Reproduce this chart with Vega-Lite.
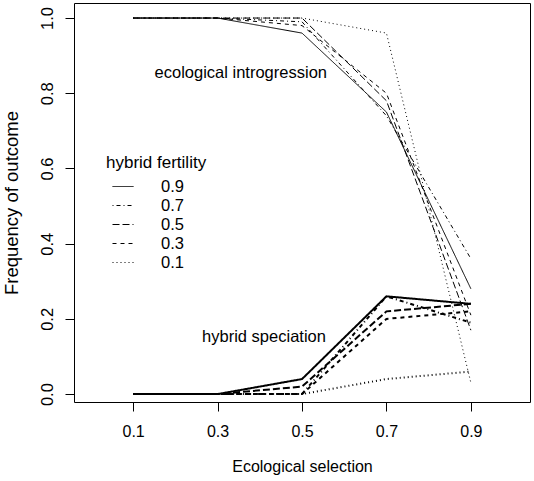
{
  "$schema": "https://vega.github.io/schema/vega-lite/v6.json",
  "autosize": "none",
  "padding": {"left": 74, "top": 3, "right": 4, "bottom": 79},
  "width": 456,
  "height": 399,
  "config": {
    "font": "Liberation Sans",
    "view": {"stroke": "black", "strokeWidth": 1},
    "axis": {"domain": false, "grid": false, "tickColor": "black", "tickSize": 9, "labelColor": "black", "titleColor": "black", "labelFontSize": 16, "titleFontSize": 16, "titleFontWeight": "normal"}
  },
  "data": {"values": [
    {"sel": 0.1, "fert": "0.9", "outcome": "intro", "freq": 1.0},
    {"sel": 0.3, "fert": "0.9", "outcome": "intro", "freq": 1.0},
    {"sel": 0.5, "fert": "0.9", "outcome": "intro", "freq": 0.96},
    {"sel": 0.7, "fert": "0.9", "outcome": "intro", "freq": 0.75},
    {"sel": 0.9, "fert": "0.9", "outcome": "intro", "freq": 0.28},
    {"sel": 0.1, "fert": "0.7", "outcome": "intro", "freq": 1.0},
    {"sel": 0.3, "fert": "0.7", "outcome": "intro", "freq": 1.0},
    {"sel": 0.5, "fert": "0.7", "outcome": "intro", "freq": 0.99},
    {"sel": 0.7, "fert": "0.7", "outcome": "intro", "freq": 0.74},
    {"sel": 0.9, "fert": "0.7", "outcome": "intro", "freq": 0.36},
    {"sel": 0.1, "fert": "0.5", "outcome": "intro", "freq": 1.0},
    {"sel": 0.3, "fert": "0.5", "outcome": "intro", "freq": 1.0},
    {"sel": 0.5, "fert": "0.5", "outcome": "intro", "freq": 1.0},
    {"sel": 0.7, "fert": "0.5", "outcome": "intro", "freq": 0.78},
    {"sel": 0.9, "fert": "0.5", "outcome": "intro", "freq": 0.17},
    {"sel": 0.1, "fert": "0.3", "outcome": "intro", "freq": 1.0},
    {"sel": 0.3, "fert": "0.3", "outcome": "intro", "freq": 1.0},
    {"sel": 0.5, "fert": "0.3", "outcome": "intro", "freq": 0.98},
    {"sel": 0.7, "fert": "0.3", "outcome": "intro", "freq": 0.80},
    {"sel": 0.9, "fert": "0.3", "outcome": "intro", "freq": 0.21},
    {"sel": 0.1, "fert": "0.1", "outcome": "intro", "freq": 1.0},
    {"sel": 0.3, "fert": "0.1", "outcome": "intro", "freq": 1.0},
    {"sel": 0.5, "fert": "0.1", "outcome": "intro", "freq": 1.0},
    {"sel": 0.7, "fert": "0.1", "outcome": "intro", "freq": 0.96},
    {"sel": 0.9, "fert": "0.1", "outcome": "intro", "freq": 0.03},
    {"sel": 0.1, "fert": "0.9", "outcome": "spec", "freq": 0.0},
    {"sel": 0.3, "fert": "0.9", "outcome": "spec", "freq": 0.0},
    {"sel": 0.5, "fert": "0.9", "outcome": "spec", "freq": 0.04},
    {"sel": 0.7, "fert": "0.9", "outcome": "spec", "freq": 0.26},
    {"sel": 0.9, "fert": "0.9", "outcome": "spec", "freq": 0.24},
    {"sel": 0.1, "fert": "0.7", "outcome": "spec", "freq": 0.0},
    {"sel": 0.3, "fert": "0.7", "outcome": "spec", "freq": 0.0},
    {"sel": 0.5, "fert": "0.7", "outcome": "spec", "freq": 0.0},
    {"sel": 0.7, "fert": "0.7", "outcome": "spec", "freq": 0.26},
    {"sel": 0.9, "fert": "0.7", "outcome": "spec", "freq": 0.19},
    {"sel": 0.1, "fert": "0.5", "outcome": "spec", "freq": 0.0},
    {"sel": 0.3, "fert": "0.5", "outcome": "spec", "freq": 0.0},
    {"sel": 0.5, "fert": "0.5", "outcome": "spec", "freq": 0.02},
    {"sel": 0.7, "fert": "0.5", "outcome": "spec", "freq": 0.22},
    {"sel": 0.9, "fert": "0.5", "outcome": "spec", "freq": 0.24},
    {"sel": 0.1, "fert": "0.3", "outcome": "spec", "freq": 0.0},
    {"sel": 0.3, "fert": "0.3", "outcome": "spec", "freq": 0.0},
    {"sel": 0.5, "fert": "0.3", "outcome": "spec", "freq": 0.0},
    {"sel": 0.7, "fert": "0.3", "outcome": "spec", "freq": 0.20},
    {"sel": 0.9, "fert": "0.3", "outcome": "spec", "freq": 0.22},
    {"sel": 0.1, "fert": "0.1", "outcome": "spec", "freq": 0.0},
    {"sel": 0.3, "fert": "0.1", "outcome": "spec", "freq": 0.0},
    {"sel": 0.5, "fert": "0.1", "outcome": "spec", "freq": 0.0},
    {"sel": 0.7, "fert": "0.1", "outcome": "spec", "freq": 0.04},
    {"sel": 0.9, "fert": "0.1", "outcome": "spec", "freq": 0.06}
  ]},
  "layer": [
    {
      "transform": [{"filter": "datum.outcome === 'intro'"}],
      "mark": {"type": "line", "color": "black", "strokeWidth": 1},
      "encoding": {
        "x": {"field": "sel", "type": "quantitative", "scale": {"domain": [-0.04, 1.04], "nice": false, "zero": false},
              "axis": {"values": [0.1, 0.3, 0.5, 0.7, 0.9], "format": ".1f", "title": "Ecological selection", "labelPadding": 12, "titlePadding": 19}},
        "y": {"field": "freq", "type": "quantitative", "scale": {"domain": [-0.021, 1.04], "nice": false, "zero": false},
              "axis": {"values": [0, 0.2, 0.4, 0.6, 0.8, 1.0], "format": ".1f", "title": "Frequency of outcome", "labelAngle": 270, "labelAlign": "center", "labelBaseline": "bottom", "labelPadding": 10, "labelFontSize": 16.5, "titleFontSize": 18.5, "titlePadding": 18}},
        "strokeDash": {"field": "fert", "type": "nominal",
          "scale": {"domain": ["0.9", "0.7", "0.5", "0.3", "0.1"], "range": [[1, 0], [1, 3, 4, 3], [7, 3], [4, 4], [1, 3]]},
          "legend": {"title": "hybrid fertility", "orient": "none", "legendX": 32, "legendY": 152, "symbolType": "stroke", "symbolSize": 441, "symbolOffset": 6, "symbolStrokeWidth": 1, "symbolStrokeColor": "black", "labelFontSize": 16.5, "titleFontSize": 17, "titleFontWeight": "normal", "labelOffset": 27, "rowPadding": 0, "clipHeight": 19, "titlePadding": 5, "labelColor": "black", "titleColor": "black"}},
        "detail": {"field": "fert"}
      }
    },
    {
      "transform": [{"filter": "datum.outcome === 'spec'"}],
      "mark": {"type": "line", "color": "black", "strokeWidth": 2},
      "encoding": {
        "x": {"field": "sel", "type": "quantitative"},
        "y": {"field": "freq", "type": "quantitative"},
        "strokeDash": {"field": "fert", "type": "nominal"},
        "detail": {"field": "fert"}
      }
    },
    {
      "data": {"values": [
        {"sel": 0.355, "freq": 0.855, "label": "ecological introgression"},
        {"sel": 0.41, "freq": 0.152, "label": "hybrid speciation"}
      ]},
      "mark": {"type": "text", "fontSize": 16.5, "color": "black", "align": "center", "baseline": "middle"},
      "encoding": {
        "x": {"field": "sel", "type": "quantitative"},
        "y": {"field": "freq", "type": "quantitative"},
        "text": {"field": "label"}
      }
    }
  ]
}
